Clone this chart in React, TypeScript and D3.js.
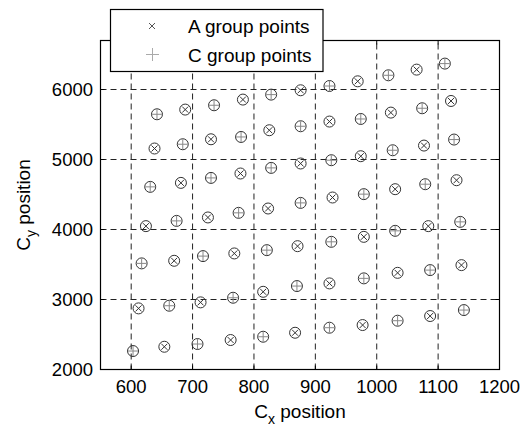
import * as d3 from "d3";

const xTicks = [600, 700, 800, 900, 1000, 1100, 1200];
const yTicks = [2000, 3000, 4000, 5000, 6000];

// A group (x markers)
const aX = [688, 782, 876, 969, 1065, 638, 730, 825, 923, 1023, 1121, 681, 778, 876, 974, 1077, 624, 725, 823, 928, 1030, 1130, 670, 768, 871, 979, 1084, 612, 713, 815, 923, 1034, 1138, 654, 762, 867, 977, 1087];
const aY = [5713, 5856, 5989, 6117, 6284, 5157, 5289, 5418, 5542, 5670, 5836, 4666, 4800, 4943, 5047, 5199, 4048, 4172, 4300, 4457, 4576, 4704, 3553, 3658, 3762, 3895, 4048, 2873, 2959, 3110, 3230, 3381, 3491, 2325, 2421, 2525, 2635, 2764];

// C group (+ markers)
const cX = [642, 735, 828, 923, 1019, 1111, 684, 779, 876, 974, 1074, 631, 730, 828, 926, 1026, 1126, 674, 775, 876, 979, 1079, 617, 717, 821, 926, 1030, 1136, 662, 766, 870, 979, 1087, 603, 708, 815, 923, 1034, 1142];
const cY = [5646, 5775, 5927, 6050, 6203, 6370, 5218, 5322, 5475, 5579, 5732, 4609, 4737, 4880, 4990, 5132, 5285, 4123, 4238, 4380, 4505, 4647, 3516, 3620, 3705, 3824, 3981, 4109, 2911, 3025, 3192, 3302, 3420, 2264, 2364, 2468, 2597, 2697, 2849];

const W = 529;
const H = 428;
const L = 100.5, R = 499.5, T = 40.5, B = 369.5;
const FONT = "'Liberation Sans', Arial, Helvetica, sans-serif";

export default function App() {
  const x = d3.scaleLinear().domain([550, 1200]).range([L, R]);
  const y = d3.scaleLinear().domain([2000, 6700]).range([B, T]);

  const aPts = aX.map((v, i) => [x(v), y(aY[i])]);
  const cPts = cX.map((v, i) => [x(v), y(cY[i])]);
  const r = 5.5;
  const xs = 3;
  const ps = 5;

  return (
    <svg width={W} height={H} style={{ position: "absolute", left: 0, top: 0 }} fontFamily={FONT}>
      <rect width={W} height={H} fill="#fff" />
      {/* grid */}
      <g stroke="#222" strokeWidth={1} strokeDasharray="6,4">
        {xTicks.slice(0, -1).map((t) => (
          <line key={"gx" + t} x1={x(t)} x2={x(t)} y1={B} y2={T} />
        ))}
        {yTicks.slice(1).map((t) => (
          <line key={"gy" + t} x1={L} x2={R} y1={y(t)} y2={y(t)} />
        ))}
      </g>
      {/* ticks */}
      <g stroke="#000" strokeWidth={1}>
        {xTicks.map((t) => (
          <g key={"tx" + t}>
            <line x1={x(t)} x2={x(t)} y1={B} y2={B - 4} />
            <line x1={x(t)} x2={x(t)} y1={T} y2={T + 4} />
          </g>
        ))}
        {yTicks.map((t) => (
          <g key={"ty" + t}>
            <line x1={L} x2={L + 4} y1={y(t)} y2={y(t)} />
            <line x1={R} x2={R - 4} y1={y(t)} y2={y(t)} />
          </g>
        ))}
      </g>
      {/* points */}
      <g fill="none">
        {aPts.map(([px, py], i) => (
          <g key={"a" + i}>
            <circle cx={px} cy={py} r={r} stroke="#333" strokeWidth={1} />
            <path d={`M${px - xs},${py - xs}L${px + xs},${py + xs}M${px - xs},${py + xs}L${px + xs},${py - xs}`} stroke="#333" strokeWidth={1} />
          </g>
        ))}
        {cPts.map(([px, py], i) => (
          <g key={"c" + i}>
            <circle cx={px} cy={py} r={r} stroke="#333" strokeWidth={1} />
            <path d={`M${px - ps},${py}L${px + ps},${py}M${px},${py - ps}L${px},${py + ps}`} stroke="#888" strokeWidth={1} />
          </g>
        ))}
      </g>
      {/* frame */}
      <rect x={L} y={T} width={R - L} height={B - T} fill="none" stroke="#000" strokeWidth={1.2} />
      {/* tick labels */}
      <g fontSize={18.5} fill="#000">
        {xTicks.map((t) => (
          <text key={"lx" + t} x={x(t)} y={393} textAnchor="middle">{t}</text>
        ))}
        {yTicks.map((t) => (
          <text key={"ly" + t} x={L - 7.5} y={y(t) + 6.5} textAnchor="end">{t}</text>
        ))}
      </g>
      {/* axis labels */}
      <text x={(L + R) / 2} y={418} textAnchor="middle" fontSize={19}>
        C<tspan fontSize={14} dy={6}>x</tspan><tspan dy={-6}> position</tspan>
      </text>
      <text transform={`translate(30,${(T + B) / 2}) rotate(-90)`} textAnchor="middle" fontSize={19}>
        C<tspan fontSize={14} dy={6}>y</tspan><tspan dy={-6}> position</tspan>
      </text>
      {/* legend */}
      <g>
        <rect x={110.5} y={9.5} width={212.5} height={62} fill="#fff" stroke="#000" strokeWidth={1.2} />
        <path d="M149,23L155,29M149,29L155,23" stroke="#555" strokeWidth={1} fill="none" />
        <path d="M146,54.5L159,54.5M152.5,48L152.5,61" stroke="#aaa" strokeWidth={1} fill="none" />
        <text x={188} y={33} fontSize={19}>A group points</text>
        <text x={188} y={62} fontSize={19}>C group points</text>
      </g>
    </svg>
  );
}
